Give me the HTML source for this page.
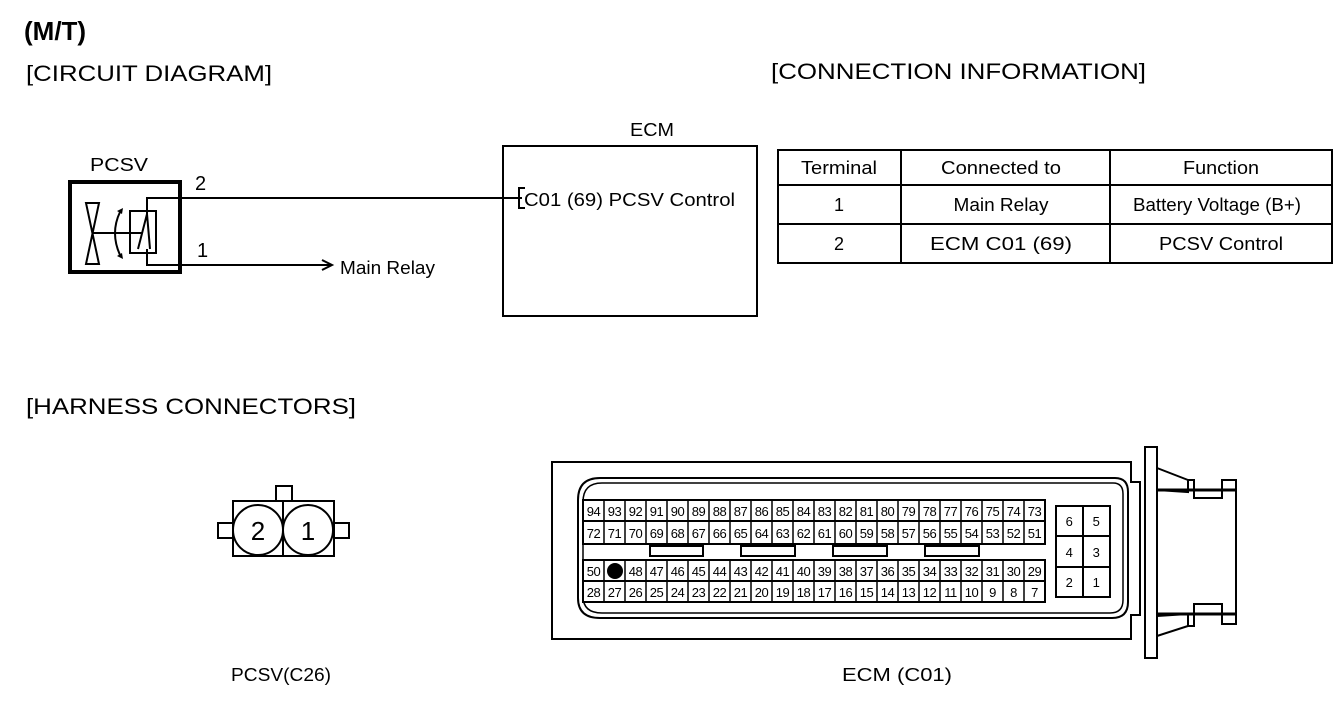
<!DOCTYPE html>
<html><head><meta charset="utf-8"><style>
html,body{margin:0;padding:0;background:#fff}
svg{display:block}
text{font-family:"Liberation Sans",Arial,sans-serif;fill:#000}
.p{font-size:13px;text-anchor:middle;letter-spacing:-0.5px}
</style></head><body>
<svg width="1344" height="702" viewBox="0 0 1344 702" xmlns="http://www.w3.org/2000/svg">
<text x="24" y="40" font-size="26" font-weight="bold">(M/T)</text>
<text x="26" y="81" font-size="22" textLength="246" lengthAdjust="spacingAndGlyphs">[CIRCUIT DIAGRAM]</text>
<text x="771" y="79" font-size="22" textLength="375" lengthAdjust="spacingAndGlyphs">[CONNECTION INFORMATION]</text>
<text x="26" y="414" font-size="22" textLength="330" lengthAdjust="spacingAndGlyphs">[HARNESS CONNECTORS]</text>

<!-- PCSV -->
<text x="90" y="171" font-size="18" textLength="58" lengthAdjust="spacingAndGlyphs">PCSV</text>
<rect x="70" y="182" width="110" height="90" fill="none" stroke="#000" stroke-width="4"/>
<path d="M86,203 L99,203 L86,264 L99,264 Z" fill="none" stroke="#000" stroke-width="2"/>
<line x1="92" y1="233" x2="142" y2="233" stroke="#000" stroke-width="2"/>
<path d="M120,212 Q110,233 120,255" fill="none" stroke="#000" stroke-width="2"/>
<path d="M117,211 l6,-3 l-1,6 z M117,256 l6,3 l-1,-6 z" fill="#000"/>
<rect x="130" y="211" width="26" height="42" fill="none" stroke="#000" stroke-width="2"/>
<path d="M138,249 L147,214 L150,249" fill="none" stroke="#000" stroke-width="2"/>
<polyline points="147,214 147,198 522,198" fill="none" stroke="#000" stroke-width="2"/>
<polyline points="147,249 147,265 330,265" fill="none" stroke="#000" stroke-width="2"/>
<path d="M322,260 L332,265 L322,270" fill="none" stroke="#000" stroke-width="2"/>
<text x="195" y="190" font-size="20">2</text>
<text x="197" y="257" font-size="20">1</text>
<text x="340" y="274" font-size="18" textLength="95" lengthAdjust="spacingAndGlyphs">Main Relay</text>

<!-- ECM box -->
<text x="630" y="136" font-size="18" textLength="44" lengthAdjust="spacingAndGlyphs">ECM</text>
<rect x="503" y="146" width="254" height="170" fill="none" stroke="#000" stroke-width="2"/>
<polyline points="525,188 519,188 519,208 525,208" fill="none" stroke="#000" stroke-width="2"/>
<text x="524" y="206" font-size="18" textLength="211" lengthAdjust="spacingAndGlyphs">C01 (69) PCSV Control</text>

<!-- Table -->
<g stroke="#000" stroke-width="2" fill="none">
<rect x="778" y="150" width="554" height="113"/>
<line x1="901" y1="150" x2="901" y2="263"/>
<line x1="1110" y1="150" x2="1110" y2="263"/>
<line x1="778" y1="185" x2="1332" y2="185"/>
<line x1="778" y1="224" x2="1332" y2="224"/>
</g>
<g font-size="18" text-anchor="middle">
<text x="839" y="174" textLength="76" lengthAdjust="spacingAndGlyphs">Terminal</text><text x="1001" y="174" textLength="120" lengthAdjust="spacingAndGlyphs">Connected to</text><text x="1221" y="174" textLength="76" lengthAdjust="spacingAndGlyphs">Function</text>
<text x="839" y="211">1</text><text x="1001" y="211" textLength="95" lengthAdjust="spacingAndGlyphs">Main Relay</text><text x="1217" y="211" textLength="168" lengthAdjust="spacingAndGlyphs">Battery Voltage (B+)</text>
<text x="839" y="250">2</text><text x="1001" y="250" textLength="142" lengthAdjust="spacingAndGlyphs">ECM C01 (69)</text><text x="1221" y="250" textLength="124" lengthAdjust="spacingAndGlyphs">PCSV Control</text>
</g>

<!-- PCSV connector -->
<g stroke="#000" stroke-width="2" fill="#fff">
<rect x="276" y="486" width="16" height="15"/>
<rect x="218" y="523" width="15" height="15"/>
<rect x="334" y="523" width="15" height="15"/>
<rect x="233" y="501" width="101" height="55"/>
<line x1="283" y1="501" x2="283" y2="556"/>
<circle cx="258" cy="530" r="25"/>
<circle cx="308" cy="530" r="25"/>
</g>
<text x="258" y="540" font-size="26" text-anchor="middle">2</text>
<text x="308" y="540" font-size="26" text-anchor="middle">1</text>
<text x="281" y="681" font-size="18" text-anchor="middle" textLength="100" lengthAdjust="spacingAndGlyphs">PCSV(C26)</text>

<!-- ECM connector -->
<g stroke="#000" fill="none">
<path d="M552,462 L1131,462 L1131,482 L1140,482 L1140,615 L1131,615 L1131,639 L552,639 Z" stroke-width="2"/>
<path d="M600,478 L1115,478 Q1128,478 1128,492 L1128,602 Q1128,618 1112,618 L600,618 Q578,618 578,598 L578,500 Q578,478 600,478 Z" stroke-width="2"/>
<path d="M602,483 L1113,483 Q1123,483 1123,494 L1123,600 Q1123,613 1110,613 L602,613 Q583,613 583,596 L583,502 Q583,483 602,483 Z" stroke-width="1.5"/>
<rect x="1145" y="447" width="12" height="211" stroke-width="2"/>
<path d="M1157,468 L1188,480 L1188,492 L1157,490" stroke-width="2"/>
<path d="M1157,616 L1188,614 L1188,626 L1157,636" stroke-width="2"/>
<path d="M1188,480 L1194,480 L1194,498 L1222,498 L1222,480 L1236,480 L1236,492" stroke-width="2"/>
<path d="M1188,626 L1194,626 L1194,604 L1222,604 L1222,624 L1236,624 L1236,612" stroke-width="2"/>
<line x1="1157" y1="490" x2="1236" y2="490" stroke-width="3"/>
<line x1="1157" y1="614" x2="1236" y2="614" stroke-width="3"/>
<line x1="1236" y1="492" x2="1236" y2="612" stroke-width="2"/>
</g>
<g stroke="#000" stroke-width="2" fill="#fff">
<rect x="583" y="500" width="462" height="44"/>
<rect x="583" y="560" width="462" height="42"/>
<rect x="650" y="546" width="53" height="10"/>
<rect x="741" y="546" width="54" height="10"/>
<rect x="833" y="546" width="54" height="10"/>
<rect x="925" y="546" width="54" height="10"/>
<line x1="583" y1="521" x2="1045" y2="521"/>
<line x1="583" y1="581" x2="1045" y2="581"/>
</g>
<g stroke="#000" stroke-width="1.5">
<path d="M604,500V544M625,500V544M646,500V544M667,500V544M688,500V544M709,500V544M730,500V544M751,500V544M772,500V544M793,500V544M814,500V544M835,500V544M856,500V544M877,500V544M898,500V544M919,500V544M940,500V544M961,500V544M982,500V544M1003,500V544M1024,500V544"/>
<path d="M604,560V602M625,560V602M646,560V602M667,560V602M688,560V602M709,560V602M730,560V602M751,560V602M772,560V602M793,560V602M814,560V602M835,560V602M856,560V602M877,560V602M898,560V602M919,560V602M940,560V602M961,560V602M982,560V602M1003,560V602M1024,560V602"/>
</g>
<g class="p">
<text x="593.5" y="516">94</text><text x="614.5" y="516">93</text><text x="635.5" y="516">92</text><text x="656.5" y="516">91</text><text x="677.5" y="516">90</text><text x="698.5" y="516">89</text><text x="719.5" y="516">88</text><text x="740.5" y="516">87</text><text x="761.5" y="516">86</text><text x="782.5" y="516">85</text><text x="803.5" y="516">84</text><text x="824.5" y="516">83</text><text x="845.5" y="516">82</text><text x="866.5" y="516">81</text><text x="887.5" y="516">80</text><text x="908.5" y="516">79</text><text x="929.5" y="516">78</text><text x="950.5" y="516">77</text><text x="971.5" y="516">76</text><text x="992.5" y="516">75</text><text x="1013.5" y="516">74</text><text x="1034.5" y="516">73</text>
<text x="593.5" y="538">72</text><text x="614.5" y="538">71</text><text x="635.5" y="538">70</text><text x="656.5" y="538">69</text><text x="677.5" y="538">68</text><text x="698.5" y="538">67</text><text x="719.5" y="538">66</text><text x="740.5" y="538">65</text><text x="761.5" y="538">64</text><text x="782.5" y="538">63</text><text x="803.5" y="538">62</text><text x="824.5" y="538">61</text><text x="845.5" y="538">60</text><text x="866.5" y="538">59</text><text x="887.5" y="538">58</text><text x="908.5" y="538">57</text><text x="929.5" y="538">56</text><text x="950.5" y="538">55</text><text x="971.5" y="538">54</text><text x="992.5" y="538">53</text><text x="1013.5" y="538">52</text><text x="1034.5" y="538">51</text>
<text x="593.5" y="576">50</text><text x="635.5" y="576">48</text><text x="656.5" y="576">47</text><text x="677.5" y="576">46</text><text x="698.5" y="576">45</text><text x="719.5" y="576">44</text><text x="740.5" y="576">43</text><text x="761.5" y="576">42</text><text x="782.5" y="576">41</text><text x="803.5" y="576">40</text><text x="824.5" y="576">39</text><text x="845.5" y="576">38</text><text x="866.5" y="576">37</text><text x="887.5" y="576">36</text><text x="908.5" y="576">35</text><text x="929.5" y="576">34</text><text x="950.5" y="576">33</text><text x="971.5" y="576">32</text><text x="992.5" y="576">31</text><text x="1013.5" y="576">30</text><text x="1034.5" y="576">29</text>
<text x="593.5" y="597">28</text><text x="614.5" y="597">27</text><text x="635.5" y="597">26</text><text x="656.5" y="597">25</text><text x="677.5" y="597">24</text><text x="698.5" y="597">23</text><text x="719.5" y="597">22</text><text x="740.5" y="597">21</text><text x="761.5" y="597">20</text><text x="782.5" y="597">19</text><text x="803.5" y="597">18</text><text x="824.5" y="597">17</text><text x="845.5" y="597">16</text><text x="866.5" y="597">15</text><text x="887.5" y="597">14</text><text x="908.5" y="597">13</text><text x="929.5" y="597">12</text><text x="950.5" y="597">11</text><text x="971.5" y="597">10</text><text x="992.5" y="597">9</text><text x="1013.5" y="597">8</text><text x="1034.5" y="597">7</text>
</g>
<circle cx="615" cy="571" r="8" fill="#000"/>
<g stroke="#000" stroke-width="2" fill="#fff">
<rect x="1056" y="506" width="54" height="91"/>
<line x1="1083" y1="506" x2="1083" y2="597"/>
<line x1="1056" y1="536" x2="1110" y2="536"/>
<line x1="1056" y1="567" x2="1110" y2="567"/>
</g>
<g class="p" font-size="14">
<text x="1069" y="526">6</text><text x="1096" y="526">5</text>
<text x="1069" y="557">4</text><text x="1096" y="557">3</text>
<text x="1069" y="587">2</text><text x="1096" y="587">1</text>
</g>
<text x="897" y="681" font-size="18" text-anchor="middle" textLength="110" lengthAdjust="spacingAndGlyphs">ECM  (C01)</text>
</svg>
</body></html>
